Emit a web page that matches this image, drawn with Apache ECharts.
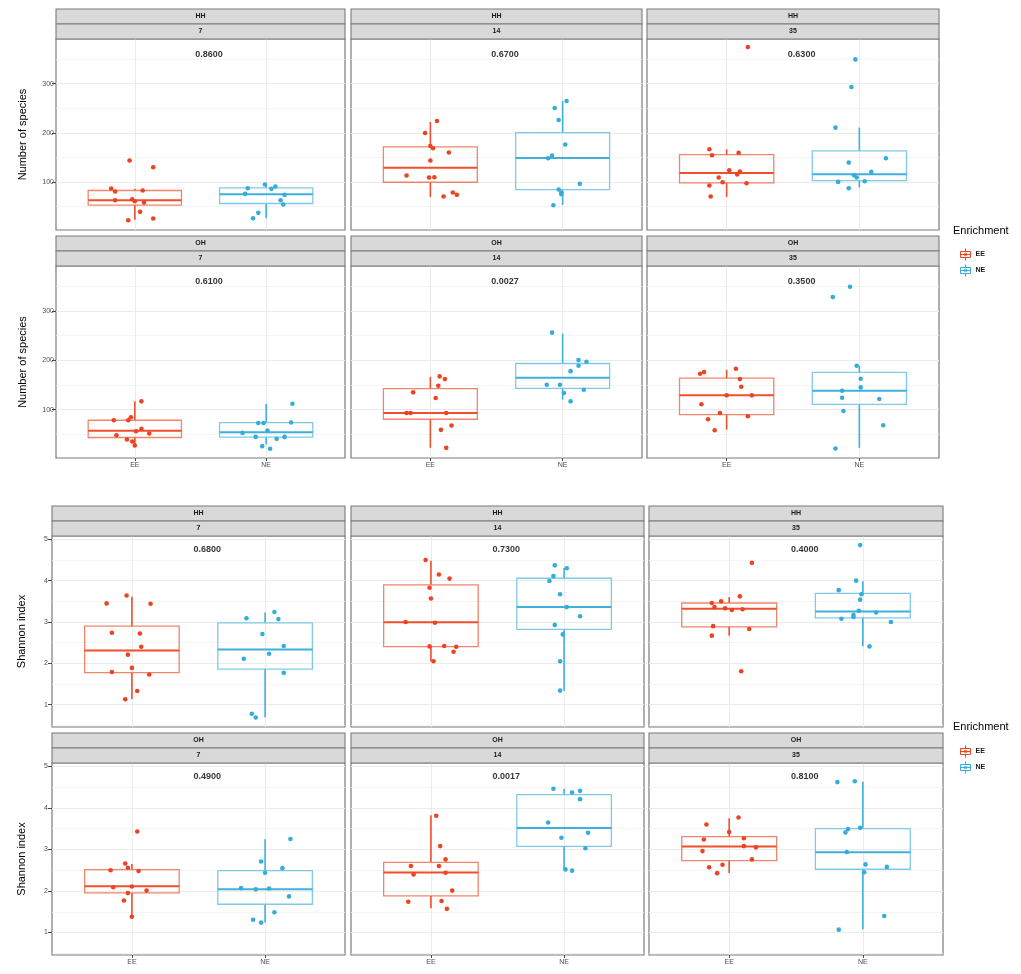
<!DOCTYPE html>
<html><head><meta charset="utf-8">
<script src="https://cdn.jsdelivr.net/npm/echarts@6/dist/echarts.min.js"></script>
<style>html,body{margin:0;padding:0;background:#fff}#c{width:1021px;height:974px}</style>
</head><body><div id="c"></div>
<script>
// ---------------- DATA ----------------
const categories = ['EE', 'NE'];
const facetSite = ['HH', 'HH', 'HH', 'OH', 'OH', 'OH'];
const facetDay = ['7', '14', '35', '7', '14', '35'];
const speciesP = ['0.8600', '0.6700', '0.6300', '0.6100', '0.0027', '0.3500'];
const shannonP = ['0.6800', '0.7300', '0.4000', '0.4900', '0.0017', '0.8100'];
const speciesTicks = [100, 200, 300];
const speciesMinorTicks = [50, 150, 250, 350];
const shannonTicks = [1, 2, 3, 4, 5];
const shannonMinorTicks = [0.5, 1.5, 2.5, 3.5, 4.5];

// box stats [lower whisker, Q1, median, Q3, upper whisker]
const speciesBoxEE = [
  [22.7, 52.5, 62.7, 82.4, 86], [69.5, 99.3, 129, 171.2, 222], [69.5, 98, 118.3, 155.6, 166.4],
  [26, 43.5, 57, 78.5, 116.8], [22.6, 80.5, 93.3, 142.4, 166.6], [59.6, 89.9, 128.9, 163.9, 180.8]
];
const speciesBoxNE = [
  [26, 56, 75, 87.8, 93], [53.2, 84.4, 148.8, 200.3, 264.8], [88.5, 102.7, 115.6, 163, 210.5],
  [29.3, 44.1, 54.2, 73.8, 111.4], [120.2, 143, 164.6, 193.5, 254], [22.6, 110.8, 138.4, 175.4, 188.8]
];
const shannonBoxEE = [
  [1.136, 1.774, 2.309, 2.9, 3.611], [2.046, 2.405, 2.996, 3.898, 4.481], [2.669, 2.884, 3.323, 3.459, 3.603],
  [1.369, 1.954, 2.114, 2.515, 2.651], [1.585, 1.882, 2.443, 2.691, 3.822], [2.435, 2.731, 3.068, 3.309, 3.75]
];
const shannonBoxNE = [
  [0.697, 1.862, 2.333, 2.98, 3.228], [1.335, 2.82, 3.363, 4.058, 4.305], [2.413, 3.1, 3.251, 3.69, 3.986],
  [1.24, 1.681, 2.042, 2.491, 3.244], [2.523, 3.076, 3.517, 4.319, 4.463], [1.08, 2.523, 2.932, 3.501, 4.631]
];

// jittered points [x position, value]
const speciesPtsEE = [
  [[0.96,143.4],[1.14,129.8],[0.82,86.4],[0.85,80.3],[1.06,82.4],[0.85,62.7],[0.98,64.7],[1.0,60.7],[1.07,58],[1.04,39],[0.95,22],[1.14,25.4]],
  [[1.05,224],[0.96,199.7],[1.0,173],[1.02,168.5],[1.14,159.7],[1.0,143.4],[0.82,112.9],[0.99,108.8],[1.03,109.5],[1.1,70.2],[1.17,78.3],[1.2,73.6]],
  [[1.16,374.6],[0.87,166.4],[0.89,154.2],[1.09,159],[1.02,123.7],[1.1,121],[1.08,115],[0.94,108.8],[0.97,99.3],[1.15,97.3],[0.87,92.5],[0.88,70.2]],
  [[1.05,116.8],[0.84,78.5],[0.95,78.5],[0.97,84.5],[1.05,61],[1.01,56.3],[1.11,51.5],[0.86,48.2],[0.94,39.4],[0.98,35.4],[1.0,27.3]],
  [[1.07,167.3],[1.11,161.9],[1.06,148.5],[0.87,135],[1.04,123.6],[0.82,93.3],[0.85,93.3],[1.12,93.3],[1.16,67.7],[1.08,59],[1.12,22.6]],
  [[1.07,182.8],[0.80,172.7],[0.83,176],[1.10,161.9],[1.11,146.4],[1.0,128.9],[1.19,128.9],[0.81,110.8],[0.95,93.3],[1.16,86.5],[0.86,80.5],[0.91,58.3]]
];
const speciesPtsNE = [
  [[1.86,87],[1.84,75.6],[1.99,94.6],[2.04,85.8],[2.07,90.5],[2.14,73.6],[2.11,62.7],[2.13,53.9],[1.94,36.9],[1.90,26]],
  [[2.03,264.8],[1.94,250.5],[1.97,226],[2.02,176],[1.92,153.6],[1.89,148],[2.13,96],[1.97,84.4],[1.99,78.3],[1.99,75],[1.93,52.5]],
  [[1.97,349.5],[1.94,293.2],[1.82,210.5],[2.2,148],[1.92,139.3],[2.09,120.3],[1.96,113.6],[1.98,108.8],[1.84,100],[2.04,101.4],[1.92,87.1]],
  [[2.2,112],[1.94,73],[1.98,73],[2.19,73.8],[2.01,57.6],[1.82,52.9],[2.14,44.8],[1.92,44.8],[2.08,40.8],[1.97,26],[2.03,20.6]],
  [[1.92,256],[2.12,200.3],[2.18,197],[2.12,188.8],[2.06,178],[1.88,150.5],[1.98,150.5],[2.16,140.4],[2.01,133.7],[2.06,116.8]],
  [[1.93,349],[1.8,328],[1.98,188.8],[2.01,162.6],[2.01,145],[1.87,138.4],[1.87,124.2],[2.15,121.5],[1.88,97.3],[2.18,68.4],[1.82,21.3]]
];
const shannonPtsEE = [
  [[0.96,3.64],[0.81,3.45],[1.14,3.44],[0.85,2.74],[1.06,2.72],[1.07,2.40],[0.97,2.21],[1.0,1.89],[0.85,1.79],[1.13,1.73],[1.04,1.33],[0.95,1.13]],
  [[0.96,4.50],[1.06,4.15],[1.14,4.05],[0.99,3.83],[1.0,3.57],[0.81,3.0],[1.03,2.98],[0.99,2.41],[1.1,2.42],[1.19,2.40],[1.17,2.28],[1.02,2.05]],
  [[1.17,4.43],[1.08,3.62],[0.87,3.46],[0.94,3.50],[0.89,3.36],[0.97,3.33],[1.02,3.29],[1.1,3.31],[0.88,2.9],[1.15,2.83],[0.87,2.67],[1.09,1.81]],
  [[1.04,3.43],[0.95,2.66],[0.84,2.5],[0.97,2.56],[1.05,2.48],[0.86,2.09],[1.0,2.11],[1.11,2.01],[0.97,1.95],[0.94,1.77],[1.0,1.38]],
  [[1.04,3.81],[1.07,3.08],[1.11,2.76],[0.85,2.6],[1.06,2.6],[0.87,2.4],[1.11,2.44],[1.16,2.01],[0.83,1.74],[1.08,1.76],[1.12,1.57]],
  [[1.07,3.77],[0.83,3.6],[1.0,3.42],[0.81,3.24],[1.11,3.27],[1.11,3.08],[1.2,3.05],[0.8,2.96],[1.17,2.76],[0.95,2.63],[0.85,2.57],[0.91,2.43]]
];
const shannonPtsNE = [
  [[2.07,3.24],[1.86,3.09],[2.1,3.07],[1.98,2.71],[2.14,2.42],[2.03,2.23],[1.84,2.11],[2.14,1.77],[1.9,0.78],[1.93,0.69]],
  [[1.93,4.37],[2.02,4.3],[1.92,4.11],[1.89,3.99],[1.97,3.67],[2.02,3.36],[2.12,3.14],[1.93,2.93],[1.99,2.7],[1.97,2.05],[1.97,1.34]],
  [[1.98,4.86],[1.95,4.0],[1.82,3.77],[1.99,3.67],[1.98,3.54],[1.97,3.27],[2.1,3.23],[1.93,3.17],[1.93,3.12],[1.84,3.08],[2.21,3.0],[2.05,2.41]],
  [[2.19,3.25],[1.97,2.71],[2.13,2.55],[2.0,2.44],[1.82,2.07],[1.93,2.04],[2.03,2.06],[2.18,1.87],[2.07,1.49],[1.91,1.31],[1.97,1.24]],
  [[1.92,4.46],[2.06,4.37],[2.12,4.41],[2.12,4.21],[1.88,3.65],[2.18,3.4],[1.98,3.28],[2.16,3.03],[2.01,2.52],[2.06,2.49]],
  [[1.81,4.62],[1.94,4.64],[1.89,3.49],[1.87,3.41],[1.98,3.52],[1.88,2.94],[2.02,2.64],[2.18,2.58],[2.01,2.45],[2.16,1.4],[1.82,1.07]]
];

// ---------------- STYLE / LAYOUT ----------------
const FONT = '"Liberation Sans", Arial, Helvetica, sans-serif';
const COLORS = {
  EE: { pt: '#EC4422', line: '#EE4F2C', box: 'rgba(240,112,84,0.85)' },
  NE: { pt: '#36ACDA', line: '#3FB0DB', box: 'rgba(112,196,230,0.9)' }
};
const BOX_HALF = 0.355;
const blocks = [
  { name: 'Number of species', pvals: speciesP, boxEE: speciesBoxEE, boxNE: speciesBoxNE, ptsEE: speciesPtsEE, ptsNE: speciesPtsNE,
    min: 2, max: 391, ticks: speciesTicks, minor: speciesMinorTicks, pY: 360,
    cols: [[56, 289], [351, 291], [647, 292]], rows: [[39, 191], [266, 192]], nameGap: 28, labelMargin: 2,
    legendTop: 243, legendTitleTop: 225 },
  { name: 'Shannon index', pvals: shannonP, boxEE: shannonBoxEE, boxNE: shannonBoxNE, ptsEE: shannonPtsEE, ptsNE: shannonPtsNE,
    min: 0.46, max: 5.08, ticks: shannonTicks, minor: shannonMinorTicks, pY: 4.75,
    cols: [[52, 293], [351, 293], [649, 294]], rows: [[536, 191], [763, 192]], nameGap: 25, labelMargin: 4,
    legendTop: 740, legendTitleTop: 721 }
];

function boxRenderer(lineColor, boxColor) {
  return function (params, api) {
    const x = api.value(0);
    const lo = api.value(1), q1 = api.value(2), md = api.value(3), q3 = api.value(4), hi = api.value(5);
    const tl = api.coord([x - BOX_HALF, q3]);
    const br = api.coord([x + BOX_HALF, q1]);
    const mL = api.coord([x - BOX_HALF, md]);
    const mR = api.coord([x + BOX_HALF, md]);
    const wTop = api.coord([x, hi]), bTop = api.coord([x, q3]);
    const bBot = api.coord([x, q1]), wBot = api.coord([x, lo]);
    return {
      type: 'group',
      children: [
        { type: 'line', shape: { x1: wTop[0], y1: wTop[1], x2: bTop[0], y2: bTop[1] }, style: { stroke: lineColor, lineWidth: 1.6 } },
        { type: 'line', shape: { x1: bBot[0], y1: bBot[1], x2: wBot[0], y2: wBot[1] }, style: { stroke: lineColor, lineWidth: 1.6 } },
        { type: 'rect', shape: { x: tl[0], y: tl[1], width: br[0] - tl[0], height: br[1] - tl[1] }, style: { fill: 'rgba(255,255,255,0)', stroke: boxColor, lineWidth: 1.3 } },
        { type: 'line', shape: { x1: mL[0], y1: mL[1], x2: mR[0], y2: mR[1] }, style: { stroke: lineColor, lineWidth: 2 } }
      ]
    };
  };
}

const grids = [], xAxes = [], yAxes = [], series = [], graphics = [], legends = [], titles = [];
let gi = 0;
blocks.forEach((b, bi) => {
  for (let p = 0; p < 6; p++) {
    const r = Math.floor(p / 3), c = p % 3;
    const [L, W] = b.cols[c];
    const [T, H] = b.rows[r];
    const showX = r === 1, showY = c === 0;
    grids.push({ left: L, top: T, width: W, height: H, show: true, backgroundColor: '#ffffff', borderColor: '#7b7b7b', borderWidth: 1.2 });
    xAxes.push({
      gridIndex: gi, type: 'value', min: 0.4, max: 2.6,
      axisLine: { show: false },
      axisTick: { show: showX, customValues: [1, 2], length: 3, lineStyle: { color: '#444' } },
      axisLabel: { show: showX, customValues: [1, 2], formatter: v => categories[Math.round(v) - 1], fontSize: 7, color: '#4d4d4d', margin: 4, fontFamily: FONT },
      splitLine: { show: true, lineStyle: { color: '#EBEBEB', width: 1 } }
    });
    yAxes.push({
      gridIndex: gi, type: 'value', min: b.min, max: b.max, position: 'left',
      axisLine: { show: false },
      axisTick: { show: showY, customValues: b.ticks, length: 4, lineStyle: { color: '#444' } },
      axisLabel: { show: showY, customValues: b.ticks, fontSize: 7, color: '#4d4d4d', margin: b.labelMargin, fontFamily: FONT },
      splitLine: { show: true, lineStyle: { color: '#EBEBEB', width: 1 } },
      name: showY ? b.name : '', nameLocation: 'middle', nameGap: b.nameGap,
      nameTextStyle: { fontSize: 11, color: '#000', fontFamily: FONT }
    });
    yAxes.push({
      gridIndex: gi, type: 'value', min: b.min, max: b.max, position: 'right',
      axisLine: { show: false },
      axisTick: { show: false, customValues: b.minor },
      axisLabel: { show: false, customValues: b.minor },
      splitLine: { show: true, lineStyle: { color: '#F1F1F1', width: 0.8 } }
    });
    const yi = gi * 2;
    [['EE', b.boxEE[p], b.ptsEE[p], 1], ['NE', b.boxNE[p], b.ptsNE[p], 2]].forEach(([nm, box, pts, xc]) => {
      series.push({
        name: nm, type: 'custom', xAxisIndex: gi, yAxisIndex: yi,
        renderItem: boxRenderer(COLORS[nm].line, COLORS[nm].box),
        encode: { x: 0, y: [1, 2, 3, 4, 5] },
        itemStyle: { color: COLORS[nm].pt },
        data: [[xc].concat(box)], silent: true, z: 2
      });
    });
    [['EE', b.ptsEE[p]], ['NE', b.ptsNE[p]]].forEach(([nm, pts]) => {
      series.push({
        name: nm, type: 'scatter', xAxisIndex: gi, yAxisIndex: yi,
        symbol: 'circle', symbolSize: 4.6, itemStyle: { color: COLORS[nm].pt, opacity: 1 },
        data: pts, silent: true, z: 3
      });
    });
    series.push({
      name: 'pvalue', type: 'scatter', xAxisIndex: gi, yAxisIndex: yi, symbolSize: 0, silent: true, z: 4,
      data: [[1.565, b.pY]],
      label: { show: true, position: 'inside', formatter: () => b.pvals[p], fontSize: 9, fontWeight: 'bold', color: '#000', fontFamily: FONT }
    });
    // facet strips
    [[facetSite[p], T - 30], [facetDay[p], T - 15]].forEach(([txt, y]) => {
      graphics.push({ type: 'rect', shape: { x: L, y: y, width: W, height: 15 }, style: { fill: '#D9D9D9', stroke: '#7b7b7b', lineWidth: 1.1 }, z: 10 });
      graphics.push({ type: 'text', x: L + W / 2, y: y + 7.5, style: { text: txt, align: 'center', verticalAlign: 'middle', fontSize: 7, fontWeight: 'bold', fill: '#1a1a1a', fontFamily: FONT }, z: 11 });
    });
    gi++;
  }
  const icon = 'path://M5,0V3M0,3H10V9H0ZM0,6H10M5,9V12M6.3,6A1.3,1.3,0,1,1,3.7,6A1.3,1.3,0,1,1,6.3,6';
  legends.push({
    orient: 'vertical', left: 955, top: b.legendTop, itemWidth: 10, itemHeight: 12, itemGap: 3, selectedMode: false,
    textStyle: { fontSize: 7, fontWeight: 'bold', color: '#1a1a1a', fontFamily: FONT },
    data: categories.map(nm => ({ name: nm, icon: icon, itemStyle: { color: 'rgba(255,255,255,0)', borderColor: COLORS[nm].pt, borderWidth: 1 } }))
  });
  titles.push({ text: 'Enrichment', left: 953, top: b.legendTitleTop, padding: 0, textStyle: { fontSize: 11, fontWeight: 'normal', color: '#000', fontFamily: FONT } });
});

const chart = echarts.init(document.getElementById('c'), null, { renderer: 'canvas' });
chart.setOption({
  animation: false,
  backgroundColor: '#ffffff',
  title: titles,
  legend: legends,
  grid: grids,
  xAxis: xAxes,
  yAxis: yAxes,
  series: series,
  graphic: graphics
});
</script>
</body></html>
